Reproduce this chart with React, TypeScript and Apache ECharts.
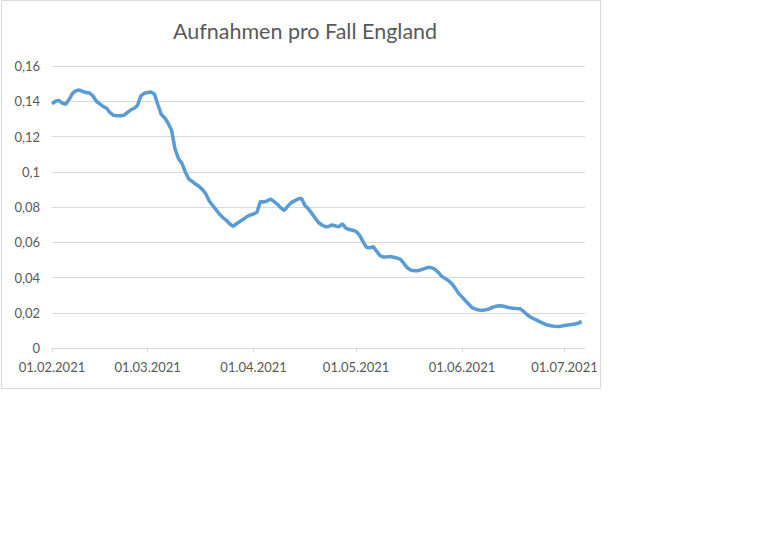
import React, { useEffect, useRef } from "react";
import * as echarts from "echarts";

// daily values, 01.02.2021 .. 06.07.2021
const admissionsPerCase: number[] = [
  0.1385, 0.14, 0.1405, 0.139, 0.1383, 0.141, 0.1445, 0.146, 0.1464, 0.1455,
  0.145, 0.1447, 0.143, 0.14, 0.1385, 0.137, 0.136, 0.1335, 0.132, 0.1318,
  0.1318, 0.132, 0.1335, 0.135, 0.136, 0.1375, 0.143, 0.1445, 0.145, 0.1452,
  0.144, 0.138, 0.1325, 0.1305, 0.1275, 0.1235, 0.113, 0.1075, 0.1049, 0.1,
  0.096, 0.0945, 0.093, 0.0918, 0.09, 0.0875, 0.0835, 0.081, 0.0785, 0.076,
  0.074, 0.0725, 0.0705, 0.069, 0.0705, 0.0718, 0.073, 0.0745, 0.0755, 0.076,
  0.077, 0.0832, 0.0828, 0.0835, 0.0845, 0.083, 0.0815, 0.0795, 0.078, 0.0805,
  0.0825, 0.0835, 0.0845, 0.085, 0.081, 0.079, 0.0765, 0.0737, 0.0712, 0.0698,
  0.0688, 0.069, 0.0698, 0.0692, 0.0688, 0.0705, 0.068, 0.0672, 0.0668, 0.0662,
  0.064, 0.0605, 0.0572, 0.0568, 0.0575, 0.055, 0.0525, 0.0516, 0.0517, 0.0519,
  0.0515, 0.051, 0.0503, 0.048, 0.0455, 0.0442, 0.0438, 0.0438, 0.0444, 0.045,
  0.0458, 0.0456, 0.0448, 0.043, 0.0408, 0.0395, 0.0383, 0.0365, 0.034, 0.031,
  0.029, 0.0268, 0.0248, 0.0228, 0.022, 0.0216, 0.0214, 0.0217, 0.0222, 0.0232,
  0.0237, 0.024, 0.0238, 0.0233, 0.0228, 0.0226, 0.0224, 0.0223, 0.0208, 0.019,
  0.0176, 0.0166, 0.0157, 0.0147, 0.0138, 0.013, 0.0126, 0.0123, 0.0122, 0.0124,
  0.0128, 0.0131, 0.0133, 0.0136, 0.014, 0.0151,
];

const startDate = "2021-02-01";
const dayCount = 157; // axis runs to 07.07.2021

const pad = (n: number) => (n < 10 ? "0" + n : String(n));

const dates: string[] = [];
for (let i = 0; i < dayCount; i++) {
  const d = new Date(startDate + "T00:00:00Z");
  d.setUTCDate(d.getUTCDate() + i);
  dates.push(`${pad(d.getUTCDate())}.${pad(d.getUTCMonth() + 1)}.${d.getUTCFullYear()}`);
}

const isMonthStart = (_i: number, value: string) => value.startsWith("01.");

const App: React.FC = () => {
  const chartRef = useRef<HTMLDivElement>(null);

  useEffect(() => {
    if (!chartRef.current) return;
    const chart = echarts.init(chartRef.current, undefined, { renderer: "svg" });

    const option: echarts.EChartsOption = {
      animation: false,
      backgroundColor: "#ffffff",
      textStyle: { fontFamily: "Lato" },
      title: {
        text: "Aufnahmen pro Fall England",
        left: 300,
        top: 15,
        textAlign: "center",
        textStyle: { fontFamily: "Lato", fontSize: 21.5, fontWeight: "normal", color: "#595959" },
      },
      graphic: [
        {
          type: "rect",
          shape: { x: 1.5, y: 0.5, width: 599, height: 388 },
          style: { fill: "none", stroke: "#d9d9d9", lineWidth: 1 },
          silent: true,
        },
      ],
      grid: { left: 52, right: 183, top: 66, bottom: 205 },
      xAxis: {
        type: "category",
        data: dates,
        boundaryGap: false,
        axisLine: { lineStyle: { color: "#d9d9d9", width: 1 } },
        axisTick: {
          show: true,
          interval: isMonthStart,
          length: 4,
          lineStyle: { color: "#d9d9d9" },
        },
        axisLabel: {
          interval: isMonthStart,
          color: "#595959",
          fontSize: 13,
          margin: 12,
        },
        splitLine: { show: false },
      },
      yAxis: {
        type: "value",
        min: 0,
        max: 0.16,
        interval: 0.02,
        axisLine: { show: false },
        axisTick: { show: false },
        axisLabel: {
          color: "#595959",
          fontSize: 13,
          margin: 12,
          formatter: (v: number) => String(+v.toFixed(2)).replace(".", ","),
        },
        splitLine: { lineStyle: { color: "#d9d9d9", width: 1 } },
      },
      series: [
        {
          type: "line",
          data: admissionsPerCase,
          showSymbol: false,
          lineStyle: { color: "#5b9bd5", width: 3.5 },
          itemStyle: { color: "#5b9bd5" },
        },
      ],
    };

    chart.setOption(option);
    return () => chart.dispose();
  }, []);

  return (
    <div style={{ position: "absolute", left: 0, top: 0 }}>
      <div ref={chartRef} style={{ width: 768, height: 553 }} />
    </div>
  );
};

export default App;
